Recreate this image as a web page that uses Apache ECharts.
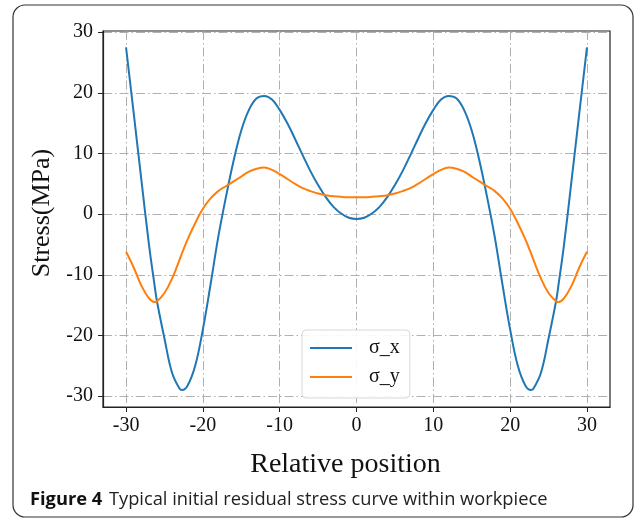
<!DOCTYPE html>
<html>
<head>
<meta charset="utf-8">
<script src="https://cdn.jsdelivr.net/npm/echarts@6/dist/echarts.min.js"></script>
<style>
  html, body { margin: 0; padding: 0; background: #fff; }
  #chart { width: 637px; height: 522px; }
</style>
</head>
<body>
<div id="chart"></div>
<script>
// relative position (x) and stresses
const positions = [
  -30, -29, -28, -27, -26.3, -26, -25, -24, -23, -22.7, -22, -21, -20, -19, -18, -17, -16,
  -15, -14, -13, -12, -11, -10, -9, -8, -7, -6, -5, -4, -3, -2, -1,
  0, 1, 2, 3, 4, 5, 6, 7, 8, 9, 10, 11, 12, 13, 14,
  15, 16, 17, 18, 19, 20, 21, 22, 22.7, 23, 24, 25, 26, 26.3, 27, 28, 29, 30
];
const sigmaX = [
  27.5, 16.6, 5.6, -5.2, -11.6, -14.2, -20.5, -26.2, -28.85, -29.0, -28.3, -25.0, -19.0, -11.6, -3.8, 2.8, 8.8,
  13.8, 17.2, 19.1, 19.5, 18.9, 17.2, 15.0, 12.4, 9.7, 7.1, 4.8, 2.8, 1.2, 0.1, -0.6,
  -0.8, -0.6, 0.1, 1.2, 2.8, 4.8, 7.1, 9.7, 12.4, 15.0, 17.2, 18.9, 19.5, 19.1, 17.2,
  13.8, 8.8, 2.8, -3.8, -11.6, -19.0, -25.0, -28.3, -29.0, -28.85, -26.2, -20.5, -14.2, -11.6, -5.2, 5.6, 16.6, 27.5
];
const sigmaY = [
  -6.2, -8.8, -11.8, -13.9, -14.5, -14.4, -13.0, -10.6, -7.4, -6.4, -4.2, -1.5, 0.9, 2.6, 3.8, 4.6, 5.4,
  6.2, 7.0, 7.5, 7.7, 7.3, 6.6, 5.8, 5.0, 4.3, 3.8, 3.4, 3.1, 2.95, 2.85, 2.8,
  2.8, 2.8, 2.85, 2.95, 3.1, 3.4, 3.8, 4.3, 5.0, 5.8, 6.6, 7.3, 7.7, 7.5, 7.0,
  6.2, 5.4, 4.6, 3.8, 2.6, 0.9, -1.5, -4.2, -6.4, -7.4, -10.6, -13.0, -14.4, -14.5, -13.9, -11.8, -8.8, -6.2
];
const xTicks = [-30, -20, -10, 0, 10, 20, 30];
const yTicks = [-30, -20, -10, 0, 10, 20, 30];
const seriesNames = ['σ_x', 'σ_y'];

const serif = '"Liberation Serif", "Times New Roman", serif';
const gridLine = { color: '#b0b0b0', width: 1, type: [9, 3, 1.5, 3] };

const chart = echarts.init(document.getElementById('chart'), null, { renderer: 'canvas' });

const pairs = ys => positions.map((x, i) => [x, ys[i]]);

chart.setOption({
  animation: false,
  backgroundColor: '#fff',
  grid: {
    left: 103, right: 27, top: 31, bottom: 115,
    show: true, borderColor: '#222', borderWidth: 1.2
  },
  xAxis: {
    type: 'value',
    min: -33, max: 33,
    name: 'Relative position',
    nameLocation: 'middle',
    nameGap: 44,
    nameTextStyle: { fontFamily: serif, fontSize: 28, color: '#111', padding: [0, 22, 0, 0] },
    axisLine: { show: true, onZero: false, lineStyle: { color: '#222', width: 1.2 } },
    axisTick: { show: true, length: 5, customValues: xTicks, lineStyle: { color: '#222' } },
    axisLabel: { customValues: xTicks, margin: 9, fontFamily: serif, fontSize: 20, color: '#111' },
    splitLine: { show: true, lineStyle: gridLine }
  },
  yAxis: {
    type: 'value',
    min: -31.8, max: 30.2,
    name: 'Stress(MPa)',
    nameLocation: 'middle',
    nameGap: 38,
    nameTextStyle: { fontFamily: serif, fontSize: 26, color: '#111', padding: [0, 0, 0, 12] },
    axisLine: { show: true, onZero: false, lineStyle: { color: '#222', width: 1.2 } },
    axisTick: { show: true, length: 5, customValues: yTicks, lineStyle: { color: '#222' } },
    axisLabel: { customValues: yTicks, margin: 10, fontFamily: serif, fontSize: 20, color: '#111' },
    splitLine: { show: true, lineStyle: gridLine }
  },
  legend: {
    data: seriesNames,
    orient: 'vertical',
    left: 302, top: 330,
    padding: [8, 10, 11, 8],
    itemGap: 9,
    itemWidth: 42, itemHeight: 2,
    icon: 'rect',
    backgroundColor: 'rgba(255,255,255,0.9)',
    borderColor: '#d8d8d8', borderWidth: 1, borderRadius: 4,
    textStyle: { fontFamily: serif, fontSize: 20, color: '#111', padding: [0, 0, 0, 12] }
  },
  series: [
    {
      name: seriesNames[0], type: 'line', data: pairs(sigmaX),
      smooth: 0.4, showSymbol: false, symbol: 'none',
      itemStyle: { color: '#1f77b4' }, lineStyle: { color: '#1f77b4', width: 2 }
    },
    {
      name: seriesNames[1], type: 'line', data: pairs(sigmaY),
      smooth: 0.4, showSymbol: false, symbol: 'none',
      itemStyle: { color: '#ff7f0e' }, lineStyle: { color: '#ff7f0e', width: 2 }
    }
  ],
  graphic: [
    {
      type: 'rect', silent: true, z: -1,
      shape: { x: 13, y: 5, width: 620, height: 512, r: 12 },
      style: { fill: 'none', stroke: '#333', lineWidth: 1.2 }
    },
    {
      type: 'text', left: 30, top: 491,
      style: {
        text: '{b|Figure 4}  {n|Typical initial residual stress curve within workpiece}',
        rich: {
          b: { fontFamily: '"Open Sans", sans-serif', fontWeight: 'bold', fontSize: 18.3, fill: '#111' },
          n: { fontFamily: '"Open Sans", sans-serif', fontSize: 18.3, fill: '#222' }
        }
      }
    }
  ]
});
</script>
</body>
</html>
